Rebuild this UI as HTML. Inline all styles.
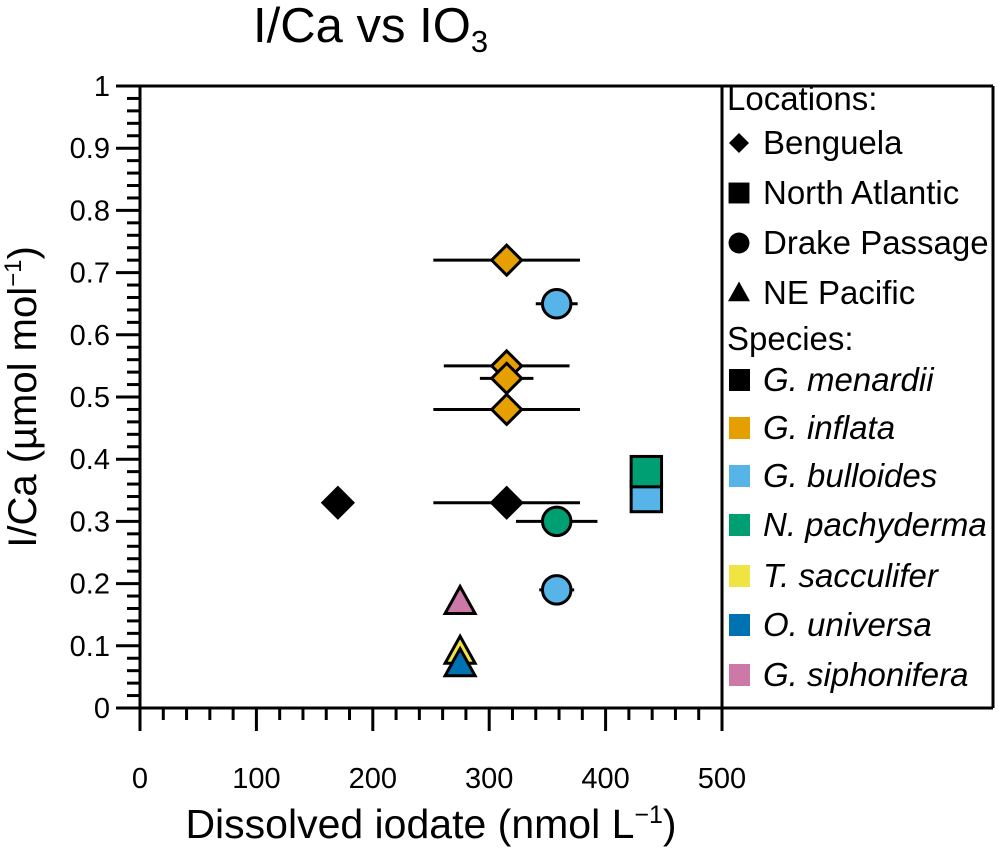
<!DOCTYPE html>
<html><head><meta charset="utf-8"><style>
body{margin:0;background:#fff;}
svg{display:block;font-family:"Liberation Sans",Arial,sans-serif;}
</style></head><body>
<svg id="chart" width="998" height="849" viewBox="0 0 998 849" xmlns="http://www.w3.org/2000/svg">
<text x="253" y="42" font-size="49">I/Ca vs IO<tspan font-size="31" dy="10">3</tspan></text>
<text transform="translate(36,397) rotate(-90)" text-anchor="middle" font-size="40">I/Ca (µmol mol<tspan font-size="24" dy="-15">−1</tspan><tspan dy="15">)</tspan></text>
<text x="431" y="838" text-anchor="middle" font-size="41">Dissolved iodate (nmol L<tspan font-size="25" dy="-15">−1</tspan><tspan dy="15">)</tspan></text>
<g id="axes"></g>
<g id="marks"></g>
<g id="legend"></g>
</svg>
<script>
const NS='http://www.w3.org/2000/svg';
const xTicks=[0,100,200,300,400,500];
const yTicks=[0,0.1,0.2,0.3,0.4,0.5,0.6,0.7,0.8,0.9,1];
const yTickLabels=['0','0.1','0.2','0.3','0.4','0.5','0.6','0.7','0.8','0.9','1'];
// data series
const pointX=[170,315,315,315,315,315,358,358,358,435,435,275,275,275];
const pointY=[0.33,0.33,0.72,0.55,0.53,0.48,0.65,0.30,0.19,0.34,0.38,0.17,0.09,0.07];
const pointErr=[0,63,63,54,23,63,18,35,15,0,0,0,0,0];
const pointShape=['diamond','diamond','diamond','diamond','diamond','diamond','circle','circle','circle','square','square','triangle','triangle','triangle'];
const pointSpecies=['menardii','menardii','inflata','inflata','inflata','inflata','bulloides','pachyderma','bulloides','bulloides','pachyderma','siphonifera','sacculifer','universa'];
const speciesNames=['menardii','inflata','bulloides','pachyderma','sacculifer','universa','siphonifera'];
const speciesLabels=['G. menardii','G. inflata','G. bulloides','N. pachyderma','T. sacculifer','O. universa','G. siphonifera'];
const speciesColors=['#000000','#E69F00','#56B4E9','#009E73','#F0E442','#0072B2','#CC79A7'];
const locationLabels=['Benguela','North Atlantic','Drake Passage','NE Pacific'];
const locationShapes=['diamond','square','circle','triangle'];

const X0=140,X1=722,Y0=708,Y1=86;
const sx=v=>X0+(v-0)/500*(X1-X0);
const sy=v=>Y0-(v-0)/1*(Y0-Y1);
function mk(tag,attrs,parent){const e=document.createElementNS(NS,tag);for(const k in attrs)e.setAttribute(k,attrs[k]);parent.appendChild(e);return e;}
const axes=document.getElementById('axes');
const line=(x1,y1,x2,y2,w,p)=>mk('line',{x1,y1,x2,y2,stroke:'#000','stroke-width':w},p);
let e;
e=line(116,Y1,993,Y1,3,axes);


e=line(X0,Y1,X0,Y0,3,axes);


e=line(116,Y0,993,Y0,3,axes);


e=line(X1,Y1,X1,731,3,axes);


e=line(993,Y1,993,Y0,3,axes);


for(let v=0;v<=50;v++){const y=sy(v/50);line(v%5===0?116:127,y,X0,y,3,axes);}
yTicks.forEach((v,i)=>{const t=mk('text',{x:110,y:sy(v)+10,'text-anchor':'end','font-size':29},axes);t.textContent=yTickLabels[i];

});
for(let v=0;v<=25;v++){const x=sx(v*20);line(x,Y0,x,v%5===0?731:720,3,axes);}
xTicks.forEach(v=>{const t=mk('text',{x:sx(v),y:788,'text-anchor':'middle','font-size':29},axes);t.textContent=String(v);

});

function shape(s,cx,cy,r,fill,p,stroke){
  const sw=stroke?3:0,st=stroke?'#000':'none';
  if(s==='diamond')return mk('polygon',{points:`${cx},${cy-r} ${cx+r},${cy} ${cx},${cy+r} ${cx-r},${cy}`,fill,stroke:st,'stroke-width':sw},p);
  if(s==='circle')return mk('circle',{cx,cy,r:r*0.95,fill,stroke:st,'stroke-width':sw},p);
  if(s==='square'){const h=r*0.95;return mk('rect',{x:cx-h,y:cy-h,width:2*h,height:2*h,fill,stroke:st,'stroke-width':sw},p);}
  return mk('polygon',{points:`${cx},${cy-r*1.05} ${cx+r},${cy+r*0.75} ${cx-r},${cy+r*0.75}`,fill,stroke:st,'stroke-width':sw},p);
}
const marks=document.getElementById('marks');
pointX.forEach((v,i)=>{if(pointErr[i]>0){const el=line(sx(v-pointErr[i]),sy(pointY[i]),sx(v+pointErr[i]),sy(pointY[i]),3,marks);

}});
pointX.forEach((v,i)=>{const c=speciesColors[speciesNames.indexOf(pointSpecies[i])];
const el=shape(pointShape[i],sx(v),sy(pointY[i]),pointShape[i]==='square'?16:15,c,marks,true);

});

const lg=document.getElementById('legend');
function ltext(y,str,italic){const t=mk('text',{x:763,y:y+11,'font-size':33},lg);if(italic)t.setAttribute('font-style','italic');t.textContent=str;return t;}
let t=ltext(99,'Locations:');t.setAttribute('x',727);


const locY=[143,193,243,293];
locationLabels.forEach((s,i)=>{const m=shape(locationShapes[i],739,locY[i],locationShapes[i]==='diamond'?10:11,'#000',lg,false);


const tt=ltext(locY[i],s);

});
t=ltext(339,'Species:');t.setAttribute('x',727);


const spY=[380,428,476,525,576,625,675];
speciesLabels.forEach((s,i)=>{const r=mk('rect',{x:729,y:spY[i]-11,width:21,height:22,fill:speciesColors[i]},lg);


const tt=ltext(spY[i],s,true);

});
</script>
</body></html>
